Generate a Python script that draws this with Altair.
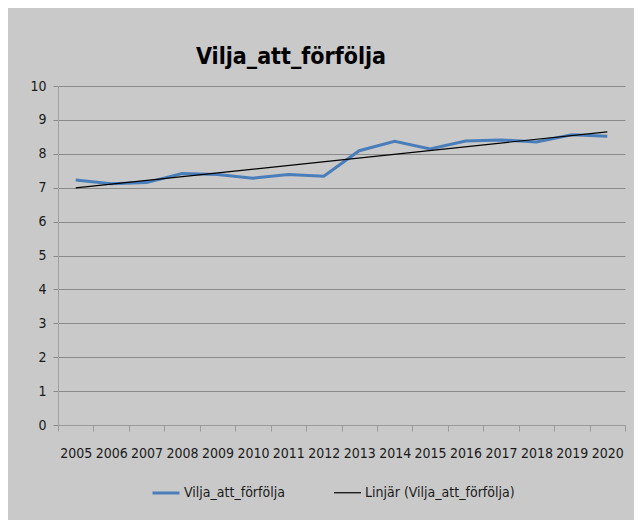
import altair as alt
import pandas as pd

years = [2005, 2006, 2007, 2008, 2009, 2010, 2011, 2012,
         2013, 2014, 2015, 2016, 2017, 2018, 2019, 2020]
values = [7.23, 7.12, 7.15, 7.42, 7.39, 7.28, 7.39, 7.34,
          8.09, 8.37, 8.14, 8.38, 8.41, 8.35, 8.56, 8.52]
series_names = ["Vilja_att_förfölja", "Linjär (Vilja_att_förfölja)"]
y_ticks = [0, 1, 2, 3, 4, 5, 6, 7, 8, 9, 10]

df = pd.DataFrame({"year": years, "value": values})

FONT = "DejaVu Sans Condensed, Roboto, sans-serif"

color_scale = alt.Scale(domain=series_names, range=["#4a7ebb", "#000000"])
width_scale = alt.Scale(domain=series_names, range=[3, 1.2])

x_enc = alt.X("year:O", title=None,
              scale=alt.Scale(paddingInner=0, paddingOuter=0),
              axis=alt.Axis(labelAngle=0, tickBand="extent", tickSize=6,
                            tickColor="#9a9a9a", domainColor="#9a9a9a",
                            labelPadding=15, grid=False))
y_enc = alt.Y("value:Q", title=None,
              scale=alt.Scale(domain=[0, 10]),
              axis=alt.Axis(values=y_ticks, tickSize=5, tickColor="#8a8a8a",
                            gridColor="#8a8a8a", domainColor="#a0a0a0",
                            labelPadding=7))

legend = alt.Legend(title=None, orient="none", legendX=93, legendY=392,
                    direction="horizontal", symbolType="stroke",
                    symbolSize=729, columnPadding=46, labelOffset=3,
                    labelLimit=0)

base = alt.Chart(df)

line = base.transform_calculate(series="'Vilja_att_förfölja'").mark_line().encode(
    x=x_enc, y=y_enc,
    color=alt.Color("series:N", scale=color_scale, legend=legend),
    strokeWidth=alt.StrokeWidth("series:N", scale=width_scale, legend=legend),
)

trend = base.transform_regression("year", "value", method="linear").transform_calculate(
    series="'Linjär (Vilja_att_förfölja)'").mark_line().encode(
    x=x_enc, y=y_enc,
    color=alt.Color("series:N", scale=color_scale, legend=legend),
    strokeWidth=alt.StrokeWidth("series:N", scale=width_scale, legend=legend),
)

chart = alt.layer(line, trend).properties(
    width=567, height=339,
    autosize=alt.AutoSizeParams(type="none"),
    padding={"left": 50, "top": 78, "right": 9, "bottom": 95},
    title=alt.TitleParams("Vilja_att_förfölja", anchor="start", dx=166, offset=10,
                          font=FONT, fontSize=23, fontWeight="bold", color="#000000"),
).configure(
    background="#c9c9c9",
    font=FONT,
).configure_view(stroke=None).configure_axis(
    labelFont=FONT, labelFontSize=14, labelColor="#1a1a1a",
).configure_legend(
    labelFont=FONT, labelFontSize=14, labelColor="#1a1a1a",
)

chart.save("out.html", embed_options={"renderer": "svg", "actions": False})
